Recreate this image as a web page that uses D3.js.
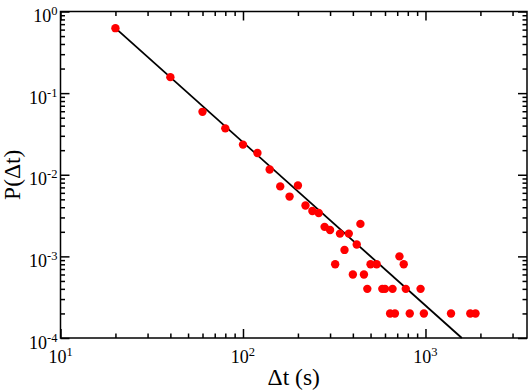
<!DOCTYPE html>
<html>
<head>
<meta charset="utf-8">
<script src="https://cdn.jsdelivr.net/npm/d3@7"></script>
<style>
  body { margin: 0; background: #fff; }
  svg text { font-family: "Times New Roman", "Liberation Serif", "DejaVu Serif", serif; fill: #000; }
</style>
</head>
<body>
<svg id="chart" width="529" height="390"></svg>
<script>
// waiting times (s) and their probability
const dt = [20, 40, 60, 80, 100, 120, 140, 160, 180, 200, 220, 240, 260, 280, 300,
            320, 340, 360, 380, 400, 420, 440, 460, 480, 500, 540, 580, 600, 640, 660,
            680, 720, 760, 780, 820, 940, 980, 1380, 1760, 1880];
const prob = [0.625, 0.157, 0.059, 0.037, 0.0234, 0.0185, 0.0116, 0.0072, 0.0054, 0.0074,
              0.0042, 0.0036, 0.0034, 0.0023, 0.0021, 0.0008, 0.0019, 0.0012, 0.0019, 0.0006,
              0.0014, 0.0025, 0.0006, 0.0004, 0.0008, 0.0008, 0.0004, 0.0004, 0.0002, 0.0004,
              0.0002, 0.001, 0.0008, 0.0004, 0.0002, 0.0004, 0.0002, 0.0002, 0.0002, 0.0002];

// power-law fit, slope -2
const fitX = [20, 1581];
const fitY = [0.625, 0.0001];

const xMajor = [10, 100, 1000];
const xMajorExp = ['1', '2', '3'];
const xMinor = [20, 30, 40, 50, 60, 70, 80, 90, 200, 300, 400, 500, 600, 700, 800, 900, 2000, 3000];
const yMajor = [1, 0.1, 0.01, 0.001, 0.0001];
const yMajorExp = ['0', '-1', '-2', '-3', '-4'];
const yMinor = [];
[0.1, 0.01, 0.001, 0.0001].forEach(d => { for (let k = 2; k <= 9; k++) yMinor.push(+(d * k).toPrecision(2)); });

const margin = {top: 11.5, right: 2, bottom: 52, left: 60.5};
const width = 529 - margin.left - margin.right;
const height = 390 - margin.top - margin.bottom;

const svg = d3.select('#chart');
const g = svg.append('g').attr('transform', 'translate(' + margin.left + ',' + margin.top + ')');

const x = d3.scaleLog().domain([10, 3600]).range([0, width]);
const y = d3.scaleLog().domain([0.0001, 1]).range([height, 0]);

// ticks, all pointing inward, on the four sides
function ticks(axis, vals, size, tr) {
    const a = g.append('g').attr('transform', tr)
        .call(axis.tickValues(vals).tickSizeInner(-size).tickSizeOuter(0).tickFormat(''));
    a.select('.domain').remove();
    a.selectAll('line').attr('stroke', '#000').attr('stroke-width', 1.5);
}
ticks(d3.axisBottom(x), xMajor, 9, 'translate(0,' + height + ')');
ticks(d3.axisBottom(x), xMinor, 4.5, 'translate(0,' + height + ')');
ticks(d3.axisTop(x), xMajor, 9, 'translate(0,0)');
ticks(d3.axisTop(x), xMinor, 4.5, 'translate(0,0)');
ticks(d3.axisLeft(y), yMajor, 9, 'translate(0,0)');
ticks(d3.axisLeft(y), yMinor, 4.5, 'translate(0,0)');
ticks(d3.axisRight(y), yMajor, 9, 'translate(' + width + ',0)');
ticks(d3.axisRight(y), yMinor, 4.5, 'translate(' + width + ',0)');

g.append('rect')
    .attr('width', width).attr('height', height)
    .attr('fill', 'none').attr('stroke', '#000').attr('stroke-width', 1.5);

// tick labels as 10 with a superscript
function powerLabel(sel, exp) {
    sel.append('tspan').text('10');
    sel.append('tspan').attr('dy', -7).attr('font-size', 12.5).text(exp);
}
xMajor.forEach((v, i) => {
    g.append('text')
        .attr('x', x(v)).attr('y', height + 25)
        .attr('text-anchor', 'middle').attr('font-size', 18)
        .call(powerLabel, xMajorExp[i]);
});
yMajor.forEach((v, i) => {
    g.append('text')
        .attr('x', -3).attr('y', y(v) + 10.5)
        .attr('text-anchor', 'end').attr('font-size', 18)
        .call(powerLabel, yMajorExp[i]);
});

// axis titles
g.append('text')
    .attr('x', width / 2).attr('y', height + 47)
    .attr('text-anchor', 'middle').attr('font-size', 23.5)
    .text('\u0394t (s)');
svg.append('text')
    .attr('transform', 'translate(20,' + (margin.top + height / 2) + ') rotate(-90)')
    .attr('text-anchor', 'middle').attr('font-size', 23.5)
    .text('P(\u0394t)');

// fit line
const line = d3.line().x(d => x(d[0])).y(d => y(d[1]));
g.append('path')
    .datum(d3.zip(fitX, fitY))
    .attr('d', line)
    .attr('fill', 'none').attr('stroke', '#000').attr('stroke-width', 1.8);

// data points
g.selectAll('.dot')
    .data(d3.zip(dt, prob)).enter()
    .append('circle')
    .attr('class', 'dot')
    .attr('cx', d => x(d[0]))
    .attr('cy', d => y(d[1]))
    .attr('r', 4.2)
    .attr('fill', '#ff0000');
</script>
</body>
</html>
